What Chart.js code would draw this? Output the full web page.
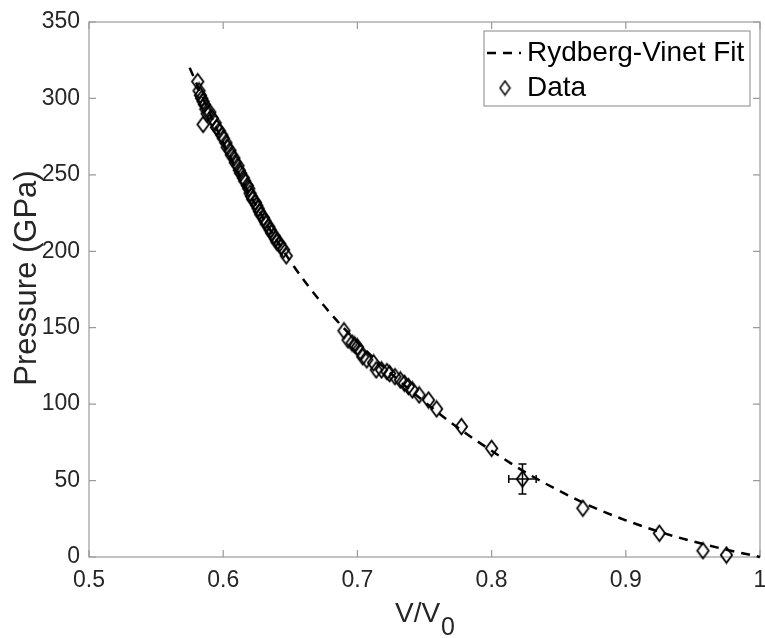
<!DOCTYPE html>
<html lang="en">
<head>
<meta charset="UTF-8">
<title>Rydberg-Vinet Fit</title>
<script src="https://cdn.jsdelivr.net/npm/chart.js"></script>
<style>
  html, body { margin: 0; padding: 0; background: #fff; }
</style>
</head>
<body>
<canvas id="eosChart" width="765" height="638"></canvas>
<script>
// Fit curve (V/V0 -> GPa)
const fitV = [0.575, 0.600, 0.625, 0.650, 0.675, 0.700, 0.725, 0.750, 0.775, 0.800, 0.825, 0.850, 0.875, 0.900, 0.925, 0.950, 0.975, 1.000];
const fitP = [320, 271, 229, 193.5, 164.5, 140.5, 120, 101.5, 84.5, 69.5, 55.5, 43.5, 32.8, 24.0, 16.5, 10.2, 4.8, 0];

// Measured points
const dataV = [
  0.581, 0.582, 0.583, 0.584, 0.585, 0.586, 0.587, 0.588, 0.585, 0.590,
  0.592, 0.594, 0.595, 0.597, 0.599, 0.600, 0.602, 0.603, 0.605, 0.606,
  0.608, 0.609, 0.611, 0.612, 0.613, 0.615, 0.616, 0.618, 0.619, 0.620,
  0.621, 0.622, 0.624, 0.625, 0.626, 0.627, 0.628, 0.630, 0.631, 0.632,
  0.634, 0.635, 0.636, 0.638, 0.639, 0.640, 0.642, 0.643, 0.645, 0.647,
  0.690, 0.693, 0.696, 0.698, 0.700, 0.702, 0.704, 0.707, 0.712, 0.714,
  0.718, 0.722, 0.724, 0.728, 0.732, 0.735, 0.738, 0.741, 0.746, 0.753,
  0.759,
  0.7775, 0.800, 0.823, 0.868, 0.925, 0.9575, 0.975
];
const dataP = [
  311, 305, 302, 300, 298, 296, 293, 290, 283, 291,
  287, 284, 281, 279, 276, 274, 271, 268, 266, 263,
  261, 258, 256, 253, 251, 248, 246, 243, 241, 238,
  236, 234, 232, 230, 228, 226, 224, 222, 220, 218,
  216, 214, 212, 210, 208, 206, 205, 203, 201, 197,
  148, 142, 140, 138.7, 137.4, 134.4, 131, 129, 127, 122.4,
  122.4, 121.3, 120, 118, 115.8, 113.7, 111.5, 109.3, 106, 102.7,
  96.9,
  85.3, 71.1, 51, 31.9, 15.5, 4.1, 1.3
];

// Error bar on one point
const errV = [0.823];
const errP = [51];
const errDV = [0.0102];
const errDP = [9.8];

const xTicks = [0.5, 0.6, 0.7, 0.8, 0.9, 1];
const yTicks = [0, 50, 100, 150, 200, 250, 300, 350];
const legendLabels = ['Rydberg-Vinet Fit', 'Data'];
const yTitleText = 'Pressure (GPa)';

const FONT = "'Liberation Sans', Arial, sans-serif";
const axisColor = '#9a9a9a';
const textColor = '#262626';

function diamond(w, h, lw) {
  const c = document.createElement('canvas');
  c.width = w + lw * 2; c.height = h + lw * 2;
  const g = c.getContext('2d');
  g.strokeStyle = '#000'; g.lineWidth = lw;
  g.beginPath();
  g.moveTo(c.width / 2, lw);
  g.lineTo(c.width - lw, c.height / 2);
  g.lineTo(c.width / 2, c.height - lw);
  g.lineTo(lw, c.height / 2);
  g.closePath();
  g.stroke();
  return c;
}
const marker = diamond(12, 16, 1.8);
const legendMarker = diamond(10, 14, 1.5);

// box + inward ticks on all four sides, like the original
const frame = {
  id: 'frame',
  beforeDatasetsDraw(chart) {
    const {ctx, chartArea: a, scales: {x, y}} = chart;
    const tl = 7;
    ctx.save();
    ctx.strokeStyle = axisColor;
    ctx.lineWidth = 1.2;
    ctx.strokeRect(a.left, a.top, a.right - a.left, a.bottom - a.top);
    ctx.beginPath();
    xTicks.forEach(v => {
      const px = x.getPixelForValue(v);
      ctx.moveTo(px, a.bottom); ctx.lineTo(px, a.bottom - tl);
      ctx.moveTo(px, a.top); ctx.lineTo(px, a.top + tl);
    });
    yTicks.forEach(v => {
      const py = y.getPixelForValue(v);
      ctx.moveTo(a.left, py); ctx.lineTo(a.left + tl, py);
      ctx.moveTo(a.right, py); ctx.lineTo(a.right - tl, py);
    });
    ctx.stroke();
    ctx.restore();
  }
};

const errorBars = {
  id: 'errorBars',
  afterDatasetsDraw(chart) {
    const {ctx, scales: {x, y}} = chart;
    const cap = 4;
    ctx.save();
    ctx.strokeStyle = '#000';
    ctx.lineWidth = 1.5;
    errV.forEach((v, i) => {
      const cx = x.getPixelForValue(v), cy = y.getPixelForValue(errP[i]);
      const x0 = x.getPixelForValue(v - errDV[i]), x1 = x.getPixelForValue(v + errDV[i]);
      const y0 = y.getPixelForValue(errP[i] - errDP[i]), y1 = y.getPixelForValue(errP[i] + errDP[i]);
      ctx.beginPath();
      ctx.moveTo(cx, y0); ctx.lineTo(cx, y1);
      ctx.moveTo(cx - cap, y0); ctx.lineTo(cx + cap, y0);
      ctx.moveTo(cx - cap, y1); ctx.lineTo(cx + cap, y1);
      ctx.moveTo(x0, cy); ctx.lineTo(x1, cy);
      ctx.moveTo(x0, cy - cap); ctx.lineTo(x0, cy + cap);
      ctx.moveTo(x1, cy - cap); ctx.lineTo(x1, cy + cap);
      ctx.stroke();
    });
    ctx.restore();
  }
};

const legendBox = {
  id: 'legendBox',
  afterDraw(chart) {
    const ctx = chart.ctx;
    const bx = 484, by = 31, bw = 266, bh = 75;
    ctx.save();
    ctx.fillStyle = '#fff';
    ctx.fillRect(bx, by, bw, bh);
    ctx.strokeStyle = axisColor;
    ctx.lineWidth = 1.2;
    ctx.strokeRect(bx, by, bw, bh);
    // dashed sample
    ctx.strokeStyle = '#000';
    ctx.lineWidth = 2.5;
    ctx.setLineDash([9, 7]);
    ctx.beginPath();
    ctx.moveTo(487, 53); ctx.lineTo(521, 53);
    ctx.stroke();
    ctx.setLineDash([]);
    ctx.drawImage(legendMarker, 505 - legendMarker.width / 2, 88 - legendMarker.height / 2);
    ctx.fillStyle = '#000';
    ctx.font = '28px ' + FONT;
    ctx.textBaseline = 'middle';
    ctx.textAlign = 'left';
    ctx.fillText(legendLabels[0], 527, 53);
    ctx.fillText(legendLabels[1], 527, 88);
    ctx.restore();
  }
};

// axis titles (x has a subscript)
const axisTitles = {
  id: 'axisTitles',
  afterDraw(chart) {
    const {ctx, chartArea: a} = chart;
    const cx = (a.left + a.right) / 2;
    ctx.save();
    ctx.fillStyle = textColor;
    ctx.textBaseline = 'alphabetic';
    ctx.textAlign = 'left';
    ctx.font = '28px ' + FONT;
    const main = 'V/V';
    const w1 = ctx.measureText(main).width;
    ctx.font = '25px ' + FONT;
    const w2 = ctx.measureText('0').width;
    const left = cx - (w1 + w2) / 2;
    ctx.font = '28px ' + FONT;
    ctx.fillText(main, left, 622);
    ctx.font = '25px ' + FONT;
    ctx.fillText('0', left + w1 + 1, 635);

    ctx.translate(27, 278);
    ctx.rotate(-Math.PI / 2);
    ctx.textAlign = 'center';
    ctx.textBaseline = 'middle';
    ctx.font = '31px ' + FONT;
    ctx.fillText(yTitleText, 0, 0);
    ctx.restore();
  }
};

new Chart(document.getElementById('eosChart'), {
  type: 'scatter',
  data: {
    datasets: [{
      label: legendLabels[0],
      data: fitV.map((v, i) => ({x: v, y: fitP[i]})),
      showLine: true,
      borderColor: '#000',
      borderWidth: 2.5,
      borderDash: [9, 7],
      pointRadius: 0,
      cubicInterpolationMode: 'monotone',
      clip: false
    }, {
      label: legendLabels[1],
      data: dataV.map((v, i) => ({x: v, y: dataP[i]})),
      pointStyle: marker,
      pointRadius: 9,
      clip: false
    }]
  },
  options: {
    responsive: false,
    animation: false,
    layout: { autoPadding: false, padding: { top: 22, right: 5, left: 0, bottom: 0 } },
    plugins: { legend: { display: false }, tooltip: { enabled: false } },
    scales: {
      x: {
        type: 'linear',
        min: 0.5, max: 1,
        afterBuildTicks: s => { s.ticks = xTicks.map(v => ({value: v})); },
        afterFit: s => { s.height = 81; s.paddingLeft = 0; s.paddingRight = 0; },
        grid: { display: false, drawTicks: false },
        border: { display: false },
        ticks: {
          padding: 10,
          color: textColor,
          font: { family: FONT, size: 23 },
          maxRotation: 0,
          callback: v => String(Number(v.toFixed(1)))
        }
      },
      y: {
        type: 'linear',
        min: 0, max: 350,
        afterBuildTicks: s => { s.ticks = yTicks.map(v => ({value: v})); },
        afterFit: s => { s.width = 89; s.paddingTop = 0; s.paddingBottom = 0; },
        grid: { display: false, drawTicks: false },
        border: { display: false },
        ticks: {
          padding: 9,
          color: textColor,
          font: { family: FONT, size: 23 }
        }
      }
    }
  },
  plugins: [frame, errorBars, legendBox, axisTitles]
});
</script>
</body>
</html>
